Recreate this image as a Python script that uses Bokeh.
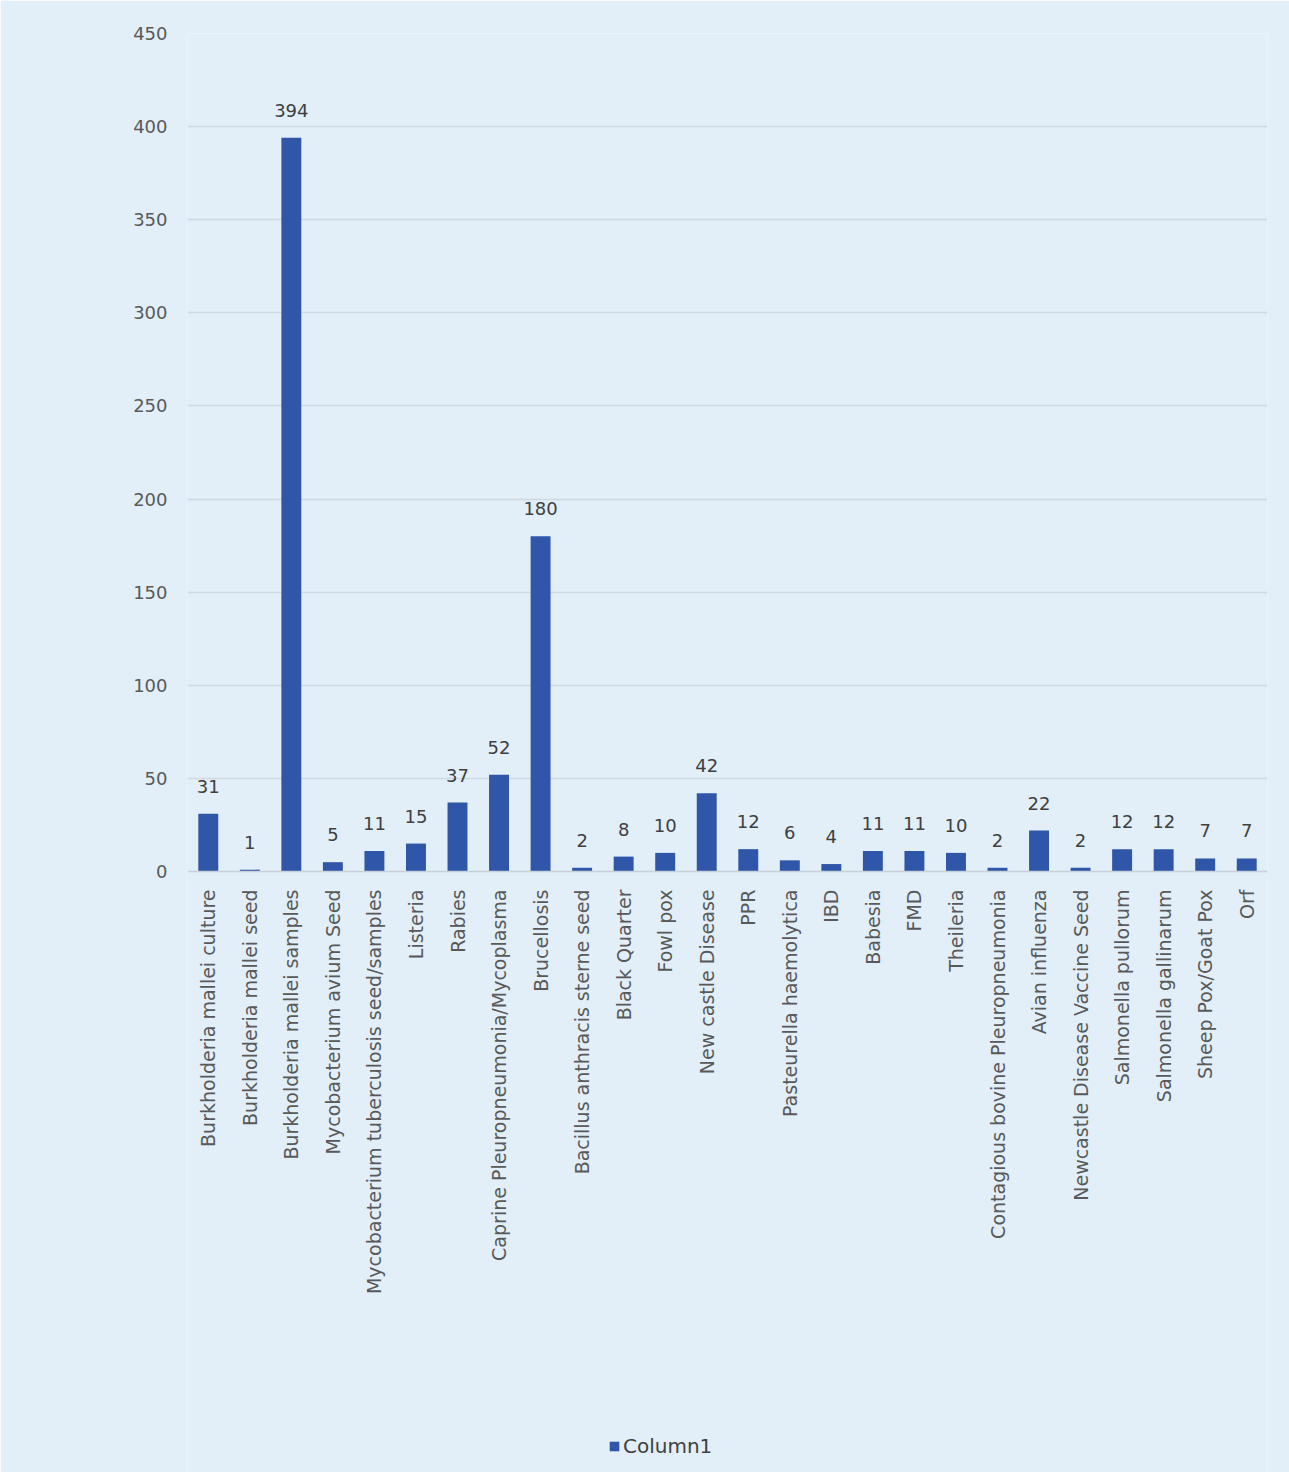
from bokeh.plotting import figure
from bokeh.models import ColumnDataSource, Legend, LegendItem, FixedTicker
from bokeh.core.properties import value
from bokeh.embed import file_html
from bokeh.resources import INLINE
import math

categories = [
    "Burkholderia mallei culture", "Burkholderia mallei seed", "Burkholderia mallei samples",
    "Mycobacterium avium Seed", "Mycobacterium tuberculosis seed/samples", "Listeria", "Rabies",
    "Caprine Pleuropneumonia/Mycoplasma", "Brucellosis", "Bacillus anthracis sterne seed",
    "Black Quarter", "Fowl pox", "New castle Disease", "PPR", "Pasteurella haemolytica", "IBD",
    "Babesia", "FMD", "Theileria", "Contagious bovine Pleuropneumonia", "Avian influenza",
    "Newcastle Disease Vaccine Seed", "Salmonella pullorum", "Salmonella gallinarum",
    "Sheep Pox/Goat Pox", "Orf",
]
counts = [31, 1, 394, 5, 11, 15, 37, 52, 180, 2, 8, 10, 42, 12, 6, 4, 11, 11, 10, 2, 22, 2, 12, 12, 7, 7]
y_ticks = [0, 50, 100, 150, 200, 250, 300, 350, 400, 450]
series_name = "Column1"

BG = "#e2eff9"
BAR = "#2f56a8"
FONT = "DejaVu Sans"

# value axis spans 0..450 over 838 px; 601 px below the baseline hold the labels and legend
Y_MAX = 450
Y_MIN = -Y_MAX * 601 / 838

src = ColumnDataSource(dict(cat=categories, val=counts, lab=[str(v) for v in counts]))

p = figure(
    x_range=categories, y_range=(Y_MIN, Y_MAX),
    width=1289, height=1472,
    output_backend="svg", toolbar_location=None,
    min_border_left=187, min_border_right=22, min_border_top=33, min_border_bottom=0,
    background_fill_color=BG, border_fill_color=BG,
)
p.outline_line_color = None

r = p.vbar(x="cat", top="val", bottom=0, width=0.48, source=src, fill_color=BAR, line_color=None)
p.text(x="cat", y="val", text="lab", source=src, y_offset=-21,
       text_align="center", text_baseline="bottom", text_font=value(FONT),
       text_font_size="18px", text_color="#404040")

p.xgrid.grid_line_color = None
p.ygrid.grid_line_color = "#d0d8e0"
p.ygrid.grid_line_width = 1.5
p.ygrid.ticker = FixedTicker(ticks=y_ticks[1:])

p.yaxis.ticker = FixedTicker(ticks=y_ticks)
p.yaxis.axis_line_color = None
p.yaxis.major_tick_line_color = None
p.yaxis.minor_tick_line_color = None
p.yaxis.major_label_text_font = FONT
p.yaxis.major_label_text_font_size = "18px"
p.yaxis.major_label_text_color = "#595959"
p.yaxis.major_label_standoff = 14

p.xaxis.fixed_location = 0
p.xaxis.axis_line_color = "#c8d0d8"
p.xaxis.axis_line_width = 1.5
p.xaxis.major_tick_line_color = None
p.xaxis.minor_tick_line_color = None
p.xaxis.major_label_orientation = math.pi / 2
p.xaxis.major_label_text_font = FONT
p.xaxis.major_label_text_font_size = "19px"
p.xaxis.major_label_text_color = "#595959"
p.xaxis.major_label_standoff = 12
p.x_range.range_padding = 0.0

legend = Legend(items=[LegendItem(label=series_name, renderers=[r])],
                location=(421, 14), orientation="horizontal",
                background_fill_alpha=0, border_line_color=None,
                label_text_font=FONT, label_text_font_size="20px", label_text_color="#404040",
                glyph_width=12, glyph_height=12, label_standoff=3, padding=4, margin=0)
p.add_layout(legend, "center")

open("out.html", "w").write(file_html(p, INLINE))
